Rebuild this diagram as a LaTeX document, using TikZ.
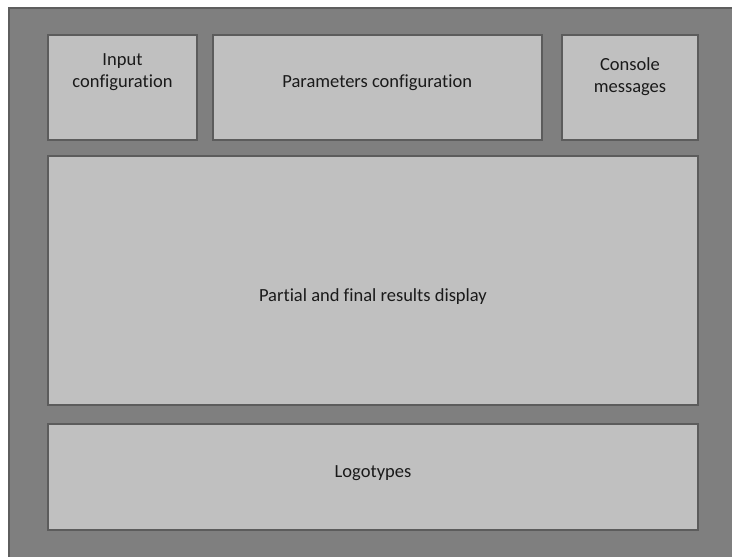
\documentclass[tikz,border=0pt]{standalone}
\usepackage{fontspec}
\setmainfont[Ligatures=NoCommon]{Carlito}
\definecolor{outerfill}{HTML}{7F7F7F}
\definecolor{outerline}{HTML}{5E5E5E}
\definecolor{panelfill}{HTML}{C0C0C0}
\definecolor{panelline}{HTML}{5C5C5C}
\definecolor{txt}{HTML}{1A1A1A}
\tikzset{
  frame/.style={draw=outerline, fill=outerfill, line width=1.6pt},
  panel/.style={draw=panelline, fill=panelfill, line width=1.6pt},
  lbl/.style={anchor=base, inner sep=0pt, text=txt, font=\fontsize{18.5}{22}\selectfont}
}
\begin{document}
\begin{tikzpicture}[x=1pt, y=-1pt]
\useasboundingbox (0,0) rectangle (732,557);
\clip (0,0) rectangle (732,557);
\fill[white] (0,0) rectangle (732,557);
\draw[frame] (9,8) rectangle (760,590);
% panels
\draw[panel] (48,35) rectangle (197,140);
\draw[panel] (212.7,35) rectangle (541.7,140);
\draw[panel] (562,35) rectangle (698,140);
\draw[panel] (48,156) rectangle (698,405);
\draw[panel] (48,424) rectangle (698,530);
% labels
\node[lbl] (input) at (122.5,65) {\begin{tabular}[t]{@{}c@{}}Input\\configuration\end{tabular}};
\node[lbl] (params) at (377.2,87.3) {Parameters configuration};
\node[lbl] (console) at (630,70) {\begin{tabular}[t]{@{}c@{}}Console\\messages\end{tabular}};
\node[lbl] (results) at (373,301.7) {Partial and final results display};
\node[lbl] (logos) at (373,477.3) {Logotypes};
\end{tikzpicture}
\end{document}
